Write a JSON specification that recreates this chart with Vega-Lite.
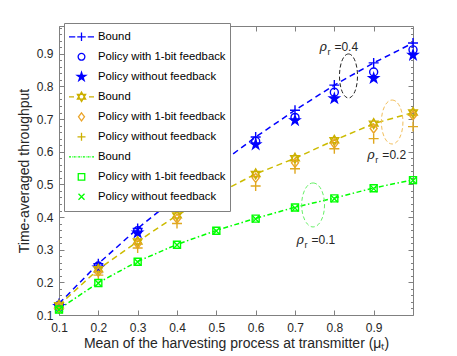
{
  "$schema": "https://vega.github.io/schema/vega-lite/v6.json",
  "width": 354,
  "height": 289,
  "autosize": {"type": "none"},
  "padding": {"left": 59, "top": 26, "right": 44, "bottom": 41},
  "config": {
    "view": {"stroke": null},
    "font": "Liberation Sans",
    "axis": {
      "domainColor": "#808080", "tickColor": "#808080",
      "labelColor": "#262626", "titleColor": "#262626",
      "labelFont": "Liberation Sans", "titleFont": "Liberation Sans",
      "labelFontSize": 12, "titleFontSize": 14, "titleFontWeight": "normal",
      "grid": false, "labelFlush": false, "labelOverlap": false
    }
  },
  "datasets": {
    "pts": [
      {"mu":0.1,"v":0.135,"s":"a1"},{"mu":0.2,"v":0.257,"s":"a1"},{"mu":0.3,"v":0.365,"s":"a1"},{"mu":0.4,"v":0.462,"s":"a1"},{"mu":0.5,"v":0.555,"s":"a1"},{"mu":0.6,"v":0.645,"s":"a1"},{"mu":0.7,"v":0.727,"s":"a1"},{"mu":0.8,"v":0.804,"s":"a1"},{"mu":0.9,"v":0.872,"s":"a1"},{"mu":1.0,"v":0.933,"s":"a1"},
      {"mu":0.1,"v":0.13,"s":"a2"},{"mu":0.2,"v":0.25,"s":"a2"},{"mu":0.3,"v":0.358,"s":"a2"},{"mu":0.4,"v":0.455,"s":"a2"},{"mu":0.5,"v":0.545,"s":"a2"},{"mu":0.6,"v":0.632,"s":"a2"},{"mu":0.7,"v":0.705,"s":"a2"},{"mu":0.8,"v":0.782,"s":"a2"},{"mu":0.9,"v":0.844,"s":"a2"},{"mu":1.0,"v":0.912,"s":"a2"},
      {"mu":0.1,"v":0.127,"s":"a3"},{"mu":0.2,"v":0.245,"s":"a3"},{"mu":0.3,"v":0.352,"s":"a3"},{"mu":0.4,"v":0.447,"s":"a3"},{"mu":0.5,"v":0.535,"s":"a3"},{"mu":0.6,"v":0.622,"s":"a3"},{"mu":0.7,"v":0.696,"s":"a3"},{"mu":0.8,"v":0.763,"s":"a3"},{"mu":0.9,"v":0.825,"s":"a3"},{"mu":1.0,"v":0.896,"s":"a3"},
      {"mu":0.1,"v":0.13,"s":"b1"},{"mu":0.2,"v":0.24,"s":"b1"},{"mu":0.3,"v":0.325,"s":"b1"},{"mu":0.4,"v":0.405,"s":"b1"},{"mu":0.5,"v":0.47,"s":"b1"},{"mu":0.6,"v":0.532,"s":"b1"},{"mu":0.7,"v":0.58,"s":"b1"},{"mu":0.8,"v":0.635,"s":"b1"},{"mu":0.9,"v":0.686,"s":"b1"},{"mu":1.0,"v":0.72,"s":"b1"},
      {"mu":0.1,"v":0.125,"s":"b2"},{"mu":0.2,"v":0.232,"s":"b2"},{"mu":0.3,"v":0.318,"s":"b2"},{"mu":0.4,"v":0.395,"s":"b2"},{"mu":0.5,"v":0.46,"s":"b2"},{"mu":0.6,"v":0.52,"s":"b2"},{"mu":0.7,"v":0.566,"s":"b2"},{"mu":0.8,"v":0.625,"s":"b2"},{"mu":0.9,"v":0.671,"s":"b2"},{"mu":1.0,"v":0.711,"s":"b2"},
      {"mu":0.1,"v":0.118,"s":"b3"},{"mu":0.2,"v":0.222,"s":"b3"},{"mu":0.3,"v":0.305,"s":"b3"},{"mu":0.4,"v":0.38,"s":"b3"},{"mu":0.5,"v":0.445,"s":"b3"},{"mu":0.6,"v":0.495,"s":"b3"},{"mu":0.7,"v":0.548,"s":"b3"},{"mu":0.8,"v":0.609,"s":"b3"},{"mu":0.9,"v":0.64,"s":"b3"},{"mu":1.0,"v":0.677,"s":"b3"},
      {"mu":0.1,"v":0.118,"s":"c1"},{"mu":0.2,"v":0.199,"s":"c1"},{"mu":0.3,"v":0.264,"s":"c1"},{"mu":0.4,"v":0.316,"s":"c1"},{"mu":0.5,"v":0.359,"s":"c1"},{"mu":0.6,"v":0.396,"s":"c1"},{"mu":0.7,"v":0.43,"s":"c1"},{"mu":0.8,"v":0.458,"s":"c1"},{"mu":0.9,"v":0.489,"s":"c1"},{"mu":1.0,"v":0.514,"s":"c1"},
      {"mu":0.1,"v":0.117,"s":"c2"},{"mu":0.2,"v":0.198,"s":"c2"},{"mu":0.3,"v":0.263,"s":"c2"},{"mu":0.4,"v":0.315,"s":"c2"},{"mu":0.5,"v":0.358,"s":"c2"},{"mu":0.6,"v":0.395,"s":"c2"},{"mu":0.7,"v":0.429,"s":"c2"},{"mu":0.8,"v":0.457,"s":"c2"},{"mu":0.9,"v":0.488,"s":"c2"},{"mu":1.0,"v":0.513,"s":"c2"},
      {"mu":0.1,"v":0.116,"s":"c3"},{"mu":0.2,"v":0.197,"s":"c3"},{"mu":0.3,"v":0.262,"s":"c3"},{"mu":0.4,"v":0.314,"s":"c3"},{"mu":0.5,"v":0.357,"s":"c3"},{"mu":0.6,"v":0.394,"s":"c3"},{"mu":0.7,"v":0.428,"s":"c3"},{"mu":0.8,"v":0.456,"s":"c3"},{"mu":0.9,"v":0.487,"s":"c3"},{"mu":1.0,"v":0.512,"s":"c3"}
    ],
    "ell": [
      {"k":"e4","mu":0.836,"v":0.832},
      {"k":"e2","mu":0.947,"v":0.691},
      {"k":"e1","mu":0.746,"v":0.437}
    ],
    "ann": [
      {"mu":0.762,"v":0.921,"lbl":"=0.4"},
      {"mu":0.884,"v":0.59,"lbl":"=0.2"},
      {"mu":0.704,"v":0.33,"lbl":"=0.1"}
    ]
  },
  "layer": [
    {
      "data": {"name": "pts"},
      "transform": [{"filter": "false"}],
      "mark": {"type": "point"},
      "encoding": {
        "x": {"field": "mu", "type": "quantitative", "scale": {"domain": [0.1, 1.0], "nice": false, "zero": false},
          "axis": {"orient": "bottom", "values": [0.1,0.2,0.3,0.4,0.5,0.6,0.7,0.8,0.9], "format": ".1f", "tickSize": -5, "labelPadding": 12, "title": "Mean of the harvesting process at transmitter (μₜ)", "titlePadding": 3}},
        "y": {"field": "v", "type": "quantitative", "scale": {"domain": [0.1, 0.985], "nice": false, "zero": false},
          "axis": {"orient": "left", "values": [0.1,0.12,0.14,0.16,0.18,0.2,0.22,0.24,0.26,0.28,0.3,0.32,0.34,0.36,0.38,0.4,0.42,0.44,0.46,0.48,0.5,0.52,0.54,0.56,0.58,0.6,0.62,0.64,0.66,0.68,0.7,0.72,0.74,0.76,0.78,0.8,0.82,0.84,0.86,0.88,0.9,0.92,0.94,0.96,0.98],
            "format": ".1f",
            "labelExpr": "abs(datum.value*10 - round(datum.value*10)) < 0.001 ? datum.label : ''",
            "tickSize": {"condition": {"test": "abs(datum.value*10 - round(datum.value*10)) < 0.001", "value": -5}, "value": -2.5},
            "labelPadding": 11, "title": "Time-averaged throughput", "titlePadding": 5}}
      }
    },
    {
      "data": {"name": "pts"},
      "transform": [{"filter": "false"}],
      "mark": {"type": "point"},
      "encoding": {
        "x": {"field": "mu", "type": "quantitative", "scale": {"domain": [0.1, 1.0], "nice": false, "zero": false},
          "axis": {"orient": "top", "values": [0.1,0.2,0.3,0.4,0.5,0.6,0.7,0.8,0.9], "labels": false, "tickSize": -5, "title": null}},
        "y": {"field": "v", "type": "quantitative", "scale": {"domain": [0.1, 0.985], "nice": false, "zero": false},
          "axis": {"orient": "right", "values": [0.1,0.12,0.14,0.16,0.18,0.2,0.22,0.24,0.26,0.28,0.3,0.32,0.34,0.36,0.38,0.4,0.42,0.44,0.46,0.48,0.5,0.52,0.54,0.56,0.58,0.6,0.62,0.64,0.66,0.68,0.7,0.72,0.74,0.76,0.78,0.8,0.82,0.84,0.86,0.88,0.9,0.92,0.94,0.96,0.98],
            "labels": false, "title": null,
            "tickSize": {"condition": {"test": "abs(datum.value*10 - round(datum.value*10)) < 0.001", "value": -5}, "value": -2.5}}}
      }
    },
    {
      "data": {"name": "pts"},
      "transform": [{"filter": "datum.s == 'a1' || datum.s == 'b1' || datum.s == 'c1'"}],
      "mark": {"type": "line", "strokeWidth": 1.5},
      "encoding": {
        "x": {"field": "mu", "type": "quantitative", "scale": {"domain": [0.1, 1.0], "nice": false, "zero": false}, "axis": null},
        "y": {"field": "v", "type": "quantitative", "scale": {"domain": [0.1, 0.985], "nice": false, "zero": false}, "axis": null},
        "stroke": {"field": "s", "type": "nominal", "legend": null, "scale": {"domain": ["a1","b1","c1"], "range": ["#0000FF","#CCBB00","#00FF00"]}},
        "strokeDash": {"field": "s", "type": "nominal", "legend": null, "scale": {"domain": ["a1","b1","c1"], "range": [[6,4],[6,4],[5,2.5,1.5,2.5]]}}
      }
    },
    {
      "data": {"name": "pts"},
      "transform": [{"filter": "datum.s != 'c1'"}],
      "mark": {"type": "point", "strokeWidth": 1.4, "opacity": 1, "size": 100},
      "encoding": {
        "x": {"field": "mu", "type": "quantitative", "scale": {"domain": [0.1, 1.0], "nice": false, "zero": false}, "axis": null},
        "y": {"field": "v", "type": "quantitative", "scale": {"domain": [0.1, 0.985], "nice": false, "zero": false}, "axis": null},
        "shape": {"field": "s", "type": "nominal", "legend": null, "scale": {"domain": ["a1","a2","a3","b1","b2","b3","c1","c2","c3"], "range": [
          "M-1,0H1M0,-1V1",
          "M0.8,0A0.8,0.8 0 1,1 -0.8,0A0.8,0.8 0 1,1 0.8,0Z",
          "M0,-1L0.225,-0.309L0.951,-0.309L0.364,0.118L0.588,0.809L0,0.382L-0.588,0.809L-0.364,0.118L-0.951,-0.309L-0.225,-0.309Z",
          "M0,-1L0.866,0.5L-0.866,0.5ZM0,1L0.866,-0.5L-0.866,-0.5Z",
          "M0,-0.9L0.7,0L0,0.9L-0.7,0Z",
          "M-1,0H1M0,-1V1",
          "M0,0",
          "M-0.7,-0.7H0.7V0.7H-0.7Z",
          "M-0.7,-0.7L0.7,0.7M-0.7,0.7L0.7,-0.7"]}},
        "stroke": {"field": "s", "type": "nominal", "legend": null, "scale": {"domain": ["a1","a2","a3","b1","b2","b3","c1","c2","c3"], "range": ["#0000FF","#0000FF","#0000FF","#CCB000","#EBA52A","#E0A820","#00FF00","#00FF00","#00FF00"]}},
        "fill": {"field": "s", "type": "nominal", "legend": null, "scale": {"domain": ["a1","a2","a3","b1","b2","b3","c1","c2","c3"], "range": ["transparent","transparent","#0000FF","transparent","transparent","transparent","transparent","transparent","transparent"]}}
      }
    },
    {
      "data": {"name": "ell"},
      "mark": {"type": "point", "strokeWidth": 1, "strokeDash": [4, 2.5], "filled": false, "size": 1936, "opacity": 1},
      "encoding": {
        "x": {"field": "mu", "type": "quantitative", "scale": {"domain": [0.1, 1.0], "nice": false, "zero": false}, "axis": null},
        "y": {"field": "v", "type": "quantitative", "scale": {"domain": [0.1, 0.985], "nice": false, "zero": false}, "axis": null},
        "shape": {"field": "k", "type": "nominal", "legend": null, "scale": {"domain": ["e4","e2","e1"], "range": [
          "M0,-1A0.41,1 0 1,1 0,1A0.41,1 0 1,1 0,-1Z",
          "M0,-1A0.49,1 0 1,1 0,1A0.49,1 0 1,1 0,-1Z",
          "M0,-1A0.52,1 0 1,1 0,1A0.52,1 0 1,1 0,-1Z"]}},
        "stroke": {"field": "k", "type": "nominal", "legend": null, "scale": {"domain": ["e4","e2","e1"], "range": ["#222222","#F2BE5A","#66F066"]}}
      }
    },
    {
      "data": {"name": "ann"},
      "mark": {"type": "text", "text": "ρ", "align": "left", "baseline": "middle", "fontSize": 12.5, "fontStyle": "italic", "font": "DejaVu Serif", "color": "#262626"},
      "encoding": {
        "x": {"field": "mu", "type": "quantitative", "scale": {"domain": [0.1, 1.0], "nice": false, "zero": false}, "axis": null},
        "y": {"field": "v", "type": "quantitative", "scale": {"domain": [0.1, 0.985], "nice": false, "zero": false}, "axis": null}
      }
    },
    {
      "data": {"name": "ann"},
      "mark": {"type": "text", "text": "r", "align": "left", "baseline": "middle", "fontSize": 9, "dx": 8, "dy": 5, "color": "#262626"},
      "encoding": {
        "x": {"field": "mu", "type": "quantitative", "scale": {"domain": [0.1, 1.0], "nice": false, "zero": false}, "axis": null},
        "y": {"field": "v", "type": "quantitative", "scale": {"domain": [0.1, 0.985], "nice": false, "zero": false}, "axis": null}
      }
    },
    {
      "data": {"name": "ann"},
      "mark": {"type": "text", "align": "left", "baseline": "middle", "fontSize": 12, "dx": 15, "color": "#262626"},
      "encoding": {
        "x": {"field": "mu", "type": "quantitative", "scale": {"domain": [0.1, 1.0], "nice": false, "zero": false}, "axis": null},
        "y": {"field": "v", "type": "quantitative", "scale": {"domain": [0.1, 0.985], "nice": false, "zero": false}, "axis": null},
        "text": {"field": "lbl", "type": "nominal"}
      }
    },
    {
      "data": {"name": "pts"},
      "transform": [{"filter": "false"}],
      "mark": {"type": "point", "strokeWidth": 1.3, "opacity": 1},
      "encoding": {
        "shape": {"field": "s", "type": "nominal",
          "legend": {"title": null, "orient": "none", "legendX": 5, "legendY": -3, "padding": 4, "strokeColor": "#808080", "fillColor": "white", "labelFont": "Liberation Sans", "labelFontSize": 11.3, "labelColor": "#000000", "symbolSize": 625, "symbolStrokeWidth": 1.3, "labelOffset": 3, "rowPadding": 0, "clipHeight": 19.6,
            "labelExpr": "substring(datum.value,1,2) == '1' ? 'Bound' : (substring(datum.value,1,2) == '2' ? 'Policy with 1-bit feedback' : 'Policy without feedback')"},
          "scale": {"domain": ["a1","a2","a3","b1","b2","b3","c1","c2","c3"], "range": [
            "M-1,0H-0.5M0.5,0H1M-0.34,0H0.34M0,-0.34V0.34",
            "M0.27,0A0.27,0.27 0 1,1 -0.27,0A0.27,0.27 0 1,1 0.27,0Z",
            "M0,-0.36L0.081,-0.111L0.342,-0.111L0.131,0.043L0.212,0.291L0,0.138L-0.212,0.291L-0.131,0.043L-0.342,-0.111L-0.081,-0.111Z",
            "M-1,0H-0.6M0.6,0H1M0,-0.38L0.33,0.19L-0.33,0.19ZM0,0.38L0.33,-0.19L-0.33,-0.19Z",
            "M0,-0.32L0.24,0L0,0.32L-0.24,0Z",
            "M-0.32,0H0.32M0,-0.32V0.32",
            "M-1,0H-0.84M-0.76,0H-0.71M-0.63,0H-0.47M-0.39,0H-0.34M-0.26,0H-0.1M-0.02,0H0.03M0.11,0H0.27M0.35,0H0.4M0.48,0H0.64M0.72,0H0.77M0.85,0H1",
            "M-0.26,-0.26H0.26V0.26H-0.26Z",
            "M-0.24,-0.24L0.24,0.24M-0.24,0.24L0.24,-0.24"]}},
        "stroke": {"field": "s", "type": "nominal",
          "legend": {"title": null, "orient": "none", "legendX": 5, "legendY": -3},
          "scale": {"domain": ["a1","a2","a3","b1","b2","b3","c1","c2","c3"], "range": ["#0000FF","#0000FF","#0000FF","#CCB000","#EBA52A","#CCB000","#00FF00","#00FF00","#00FF00"]}},
        "fill": {"field": "s", "type": "nominal",
          "legend": {"title": null, "orient": "none", "legendX": 5, "legendY": -3},
          "scale": {"domain": ["a1","a2","a3","b1","b2","b3","c1","c2","c3"], "range": ["transparent","transparent","#0000FF","transparent","transparent","transparent","transparent","transparent","transparent"]}}
      }
    }
  ],
  "resolve": {"scale": {"x": "independent", "y": "independent", "shape": "independent", "stroke": "independent", "fill": "independent", "strokeDash": "independent"}}
}
